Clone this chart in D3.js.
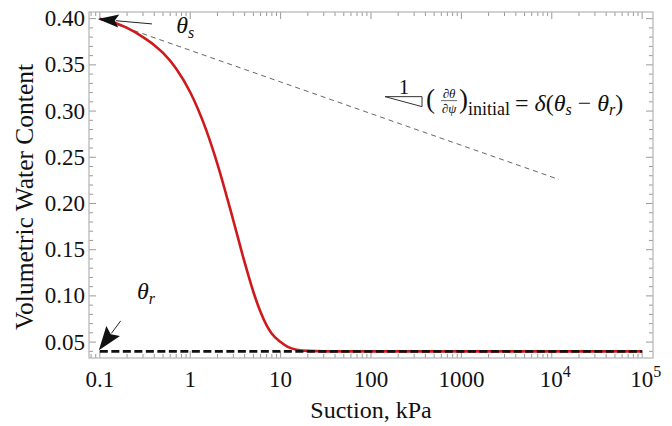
<!DOCTYPE html>
<html><head><meta charset="utf-8">
<script src="https://cdn.jsdelivr.net/npm/d3@7"></script>
</head>
<body style="margin:0">
<script>
// ---- data ----
const suction = [0.1,0.15,0.2,0.3,0.4,0.5,0.7,1,1.5,2,3,4,5,6,7,8,10,12,15,20,30,100,1000,1e4,1e5];
const waterContent = [0.400,0.395,0.390,0.3800,0.3713,0.3629,0.3459,0.3204,0.2797,0.2427,0.1815,0.1362,0.1042,0.0825,0.0680,0.0590,0.0500,0.0448,0.0418,0.0405,0.0400,0.040,0.040,0.040,0.040];
const residualSuction = [0.1, 1e5];
const residualTheta = [0.04, 0.04];
const tangentSuction = [0.1, 1.2e4];
const tangentTheta = [0.400, 0.226];
const xTickValues = [0.1,1,10,100,1000,1e4,1e5];
const xTickLabels = ["0.1","1","10","100","1000","10^4","10^5"];
const yTickValues = [0.05,0.10,0.15,0.20,0.25,0.30,0.35,0.40];
const yTickLabels = ["0.05","0.10","0.15","0.20","0.25","0.30","0.35","0.40"];
const xLabel = "Suction, kPa";
const yLabel = "Volumetric Water Content";

const FONT = "Liberation Serif";
const W = 672, H = 426;
const L = 89, R = 653, T = 12, B = 358;
const svg = d3.select("body").append("svg").attr("width", W).attr("height", H)
  .style("display", "block").attr("font-family", FONT);

const x = d3.scaleLog().domain([Math.pow(10,-1.12), Math.pow(10,5.12)]).range([L, R]);
const y = d3.scaleLinear().domain([0.0328, 0.4072]).range([B, T]);

const frameCol = "#b4b4b4", tickCol = "#9a9a9a", ink = "#111";

// minor ticks
const xMinor = [];
for (let e = -2; e <= 5; e++) for (let m = 2; m <= 9; m++) {
  const v = m * Math.pow(10, e);
  const lv = Math.log10(v);
  if (lv > -1.12 && lv < 5.12) xMinor.push(v);
}
const yMinor = [];
for (let k = 4; k <= 40; k++) { if (k % 5 !== 0) yMinor.push(k / 100); }

const g = svg.append("g");
function drawXTicks(vals, len) {
  g.selectAll(null).data(vals).enter().append("line")
    .attr("x1", d => x(d)).attr("x2", d => x(d)).attr("y1", B).attr("y2", B - len)
    .attr("stroke", tickCol).attr("stroke-width", 1);
  g.selectAll(null).data(vals).enter().append("line")
    .attr("x1", d => x(d)).attr("x2", d => x(d)).attr("y1", T).attr("y2", T + len)
    .attr("stroke", tickCol).attr("stroke-width", 1);
}
function drawYTicks(vals, len) {
  g.selectAll(null).data(vals).enter().append("line")
    .attr("y1", d => y(d)).attr("y2", d => y(d)).attr("x1", L).attr("x2", L + len)
    .attr("stroke", tickCol).attr("stroke-width", 1);
  g.selectAll(null).data(vals).enter().append("line")
    .attr("y1", d => y(d)).attr("y2", d => y(d)).attr("x1", R).attr("x2", R - len)
    .attr("stroke", tickCol).attr("stroke-width", 1);
}
drawXTicks(xTickValues, 7); drawXTicks(xMinor, 4);
drawYTicks(yTickValues, 7); drawYTicks(yMinor, 4);

g.append("rect").attr("x", L).attr("y", T).attr("width", R - L).attr("height", B - T)
  .attr("fill", "none").attr("stroke", frameCol).attr("stroke-width", 1.2);

// tick labels
const xl = g.selectAll(null).data(xTickValues).enter().append("text")
  .attr("font-family", FONT)
  .attr("x", d => x(d)).attr("y", 387).attr("text-anchor", "middle").attr("font-size", 23).attr("fill", ink);
xl.each(function(d, i) {
  const s = xTickLabels[i];
  const t = d3.select(this);
  if (s.includes("^")) {
    const [b, e] = s.split("^");
    t.attr("text-anchor", "start").attr("x", x(d) - 12);
    t.append("tspan").text(b);
    t.append("tspan").attr("font-size", 16).attr("dy", -10).text(e);
  } else t.text(s);
});
g.selectAll(null).data(yTickValues).enter().append("text")
  .attr("font-family", FONT)
  .attr("x", L - 4).attr("y", d => y(d) + 7.5).attr("text-anchor", "end").attr("font-size", 23).attr("fill", ink)
  .text((d, i) => yTickLabels[i]);

// axis labels
svg.append("text").attr("font-family", FONT).attr("x", (L + R) / 2).attr("y", 418).attr("text-anchor", "middle")
  .attr("font-size", 24).attr("fill", ink).text(xLabel);
svg.append("text").attr("font-family", FONT).attr("transform", `translate(33,${(T + B) / 2 + 12}) rotate(-90)`)
  .attr("text-anchor", "middle").attr("font-size", 25.5).attr("fill", ink).text(yLabel);

// clip
svg.append("clipPath").attr("id", "clip").append("rect")
  .attr("x", L).attr("y", T).attr("width", R - L).attr("height", B - T);
const plot = svg.append("g").attr("clip-path", "url(#clip)");

const line = d3.line().x(d => x(d[0])).y(d => y(d[1]));

plot.append("path").datum(d3.zip(tangentSuction, tangentTheta))
  .attr("d", line).attr("fill", "none").attr("stroke", "#555").attr("stroke-width", 0.9)
  .attr("stroke-dasharray", "5,4");

plot.append("path").datum(d3.zip(suction, waterContent))
  .attr("d", d3.line().x(d => x(d[0])).y(d => y(d[1])).curve(d3.curveMonotoneX))
  .attr("fill", "none").attr("stroke", "#d0191c").attr("stroke-width", 2.6);

plot.append("path").datum(d3.zip(residualSuction, residualTheta))
  .attr("d", line).attr("fill", "none").attr("stroke", ink)
  .attr("stroke-width", 2.6).attr("stroke-dasharray", "8,3.5");

// arrows (data coordinates: tail -> tip)
const arrows = [
  {tail: [0.377, 0.3943], tip: [0.095, 0.3995], len: 21, half: 6.5},
  {tail: [0.170, 0.0730], tip: [0.0975, 0.0412], len: 24, half: 8.5}
];
arrows.forEach(a => {
  const x0 = x(a.tail[0]), y0 = y(a.tail[1]), x1 = x(a.tip[0]), y1 = y(a.tip[1]);
  const dx = x1 - x0, dy = y1 - y0, d = Math.hypot(dx, dy);
  const ux = dx / d, uy = dy / d;
  const bx = x1 - ux * a.len, by = y1 - uy * a.len;
  svg.append("line").attr("x1", x0).attr("y1", y0).attr("x2", bx + ux * 3).attr("y2", by + uy * 3)
    .attr("stroke", "#222").attr("stroke-width", 1);
  const nx = -uy, ny = ux;
  svg.append("path").attr("d",
    `M${x1},${y1}L${bx + nx * a.half},${by + ny * a.half}L${bx + ux * 4},${by + uy * 4}L${bx - nx * a.half},${by - ny * a.half}Z`)
    .attr("fill", ink);
});

function thetaLabel(px, py, sub) {
  const t = svg.append("text").attr("font-family", FONT).attr("x", px).attr("y", py).attr("font-size", 24)
    .attr("font-style", "italic").attr("fill", ink);
  t.append("tspan").text("θ");
  t.append("tspan").attr("font-size", 16).attr("dy", 5).text(sub);
}
thetaLabel(x(0.70), y(0.3845), "s");
thetaLabel(x(0.258), y(0.0965), "r");

// formula annotation anchored in data coords
const ax = x(143), ay = y(0.3156);
const fa = svg.append("g").attr("transform", `translate(${ax},${ay})`).attr("fill", ink).attr("font-family", FONT);
function ftext(px, py, size) {
  return fa.append("text").attr("font-family", FONT).attr("x", px).attr("y", py).attr("font-size", size);
}
fa.append("path").attr("d", "M0,0L37,0L37,10Z").attr("fill", "none").attr("stroke", "#333").attr("stroke-width", 1);
ftext(19, -3, 21).attr("text-anchor", "middle").text("1");
ftext(41, 11, 27).text("(");
ftext(64, 1, 13).attr("text-anchor", "middle").attr("font-style", "italic").text("∂θ");
fa.append("line").attr("x1", 56).attr("x2", 72).attr("y1", 4).attr("y2", 4).attr("stroke", "#222").attr("stroke-width", 0.7);
ftext(64, 16, 13).attr("text-anchor", "middle").attr("font-style", "italic").text("∂ψ");
ftext(74, 11, 27).text(")");
ftext(83, 18, 18).text("initial");
const eq = ftext(130, 14, 24);
eq.append("tspan").text("= ");
eq.append("tspan").attr("font-style", "italic").text("δ");
eq.append("tspan").text("(");
eq.append("tspan").attr("font-style", "italic").text("θ");
eq.append("tspan").attr("font-style", "italic").attr("font-size", 16).attr("dy", 4).text("s");
eq.append("tspan").attr("dy", -4).text(" − ");
eq.append("tspan").attr("font-style", "italic").text("θ");
eq.append("tspan").attr("font-style", "italic").attr("font-size", 16).attr("dy", 4).text("r");
eq.append("tspan").attr("dy", -4).text(")");
</script>
</body></html>
